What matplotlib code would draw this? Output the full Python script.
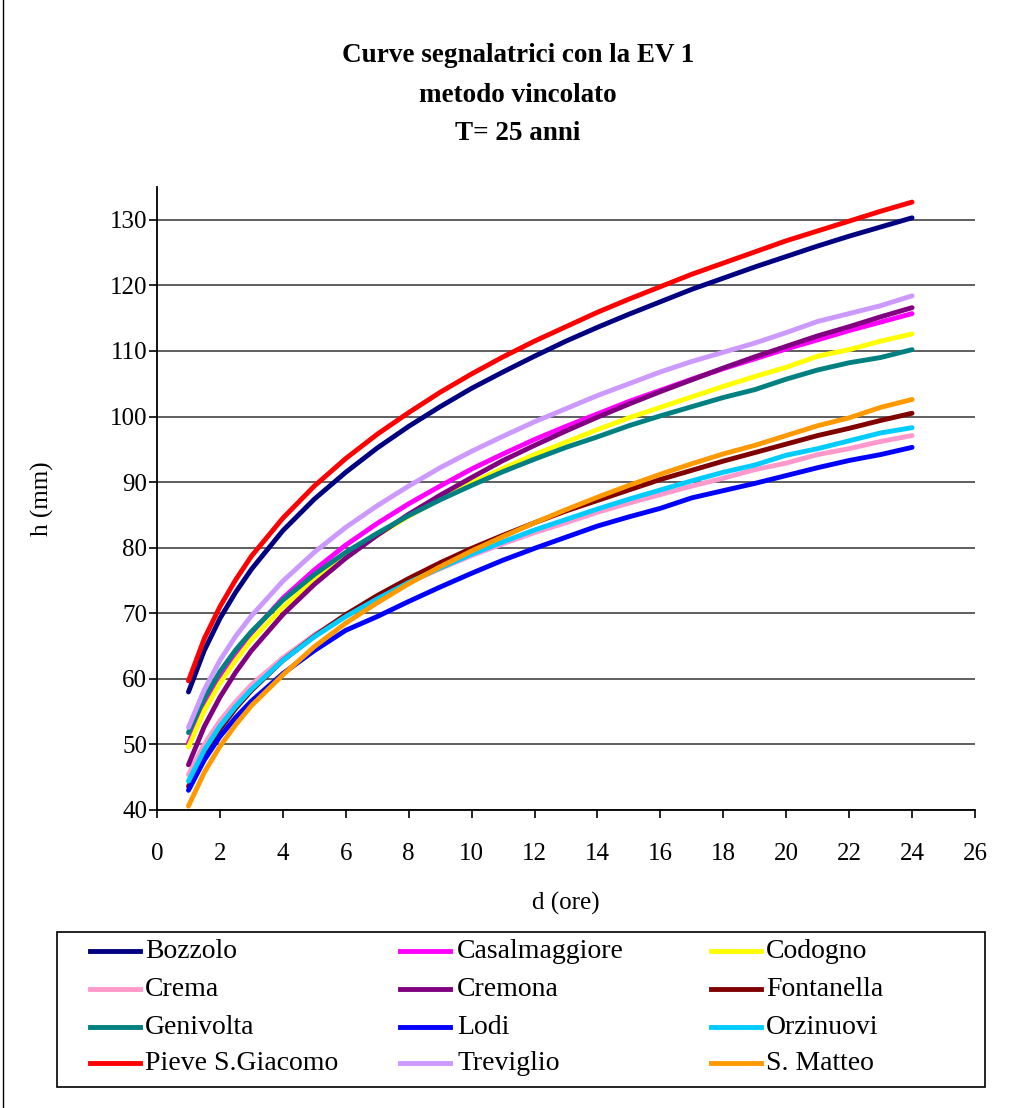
import matplotlib
matplotlib.use('Agg')
import matplotlib.pyplot as plt
from matplotlib.lines import Line2D
from matplotlib.patches import Rectangle

# durata (ore)
durata = [1, 1.5, 2, 2.5, 3, 4, 5, 6, 7, 8, 9, 10, 11, 12,
          13, 14, 15, 16, 17, 18, 19, 20, 21, 22, 23, 24]

bozzolo = [58.0, 64.3, 69.2, 73.2, 76.7, 82.6, 87.4, 91.5, 95.2, 98.5, 101.5, 104.3, 106.8,
           109.2, 111.5, 113.6, 115.6, 117.5, 119.4, 121.1, 122.8, 124.4, 126.0, 127.5, 128.9, 130.3]
casalmaggiore = [50.2, 55.8, 60.2, 63.9, 67.0, 72.3, 76.6, 80.4, 83.7, 86.7, 89.4, 92.0, 94.3,
                 96.5, 98.5, 100.4, 102.3, 104.0, 105.7, 107.3, 108.8, 110.3, 111.7, 113.1, 114.4, 115.7]
codogno = [49.6, 55.1, 59.3, 62.8, 65.9, 70.9, 75.1, 78.8, 81.9, 84.8, 87.4, 89.9, 92.1,
           94.2, 96.1, 98.0, 99.8, 101.4, 103.0, 104.6, 106.1, 107.5, 109.2, 110.2, 111.5, 112.6]
crema = [45.4, 50.0, 53.6, 56.5, 59.1, 63.2, 66.7, 69.7, 72.3, 74.7, 76.8, 78.8, 80.6,
         82.3, 83.8, 85.4, 86.8, 88.1, 89.4, 90.6, 91.9, 92.9, 94.2, 95.1, 96.2, 97.1]
cremona = [46.9, 52.7, 57.2, 61.0, 64.3, 69.8, 74.4, 78.4, 81.9, 85.1, 88.0, 90.7, 93.3,
           95.6, 97.8, 99.9, 101.9, 103.8, 105.6, 107.4, 109.1, 110.7, 112.3, 113.7, 115.2, 116.6]
fontanella = [43.6, 48.5, 52.3, 55.5, 58.2, 62.8, 66.5, 69.8, 72.7, 75.3, 77.7, 79.9, 81.9,
              83.8, 85.6, 87.2, 88.8, 90.4, 91.8, 93.2, 94.5, 95.8, 97.1, 98.2, 99.4, 100.5]
genivolta = [51.8, 57.0, 61.1, 64.4, 67.2, 72.0, 75.9, 79.3, 82.2, 84.9, 87.3, 89.5, 91.6,
             93.5, 95.3, 96.9, 98.6, 100.1, 101.5, 102.9, 104.1, 105.7, 107.1, 108.2, 109.0, 110.2]
lodi = [43.0, 47.6, 51.2, 54.1, 56.6, 60.8, 64.3, 67.4, 69.5, 71.8, 74.0, 76.1, 78.1,
        79.9, 81.6, 83.3, 84.7, 86.0, 87.6, 88.7, 89.8, 91.0, 92.2, 93.3, 94.2, 95.3]
orzinuovi = [44.4, 49.1, 52.8, 55.8, 58.4, 62.8, 66.4, 69.5, 72.2, 74.7, 76.9, 79.0, 80.9,
             82.7, 84.3, 85.9, 87.4, 88.8, 90.2, 91.5, 92.6, 94.1, 95.1, 96.3, 97.5, 98.3]
pieve = [59.7, 66.1, 71.0, 75.1, 78.7, 84.5, 89.4, 93.6, 97.3, 100.6, 103.7, 106.5, 109.1,
         111.5, 113.7, 115.9, 117.9, 119.8, 121.7, 123.4, 125.1, 126.8, 128.3, 129.8, 131.3, 132.7]
treviglio = [52.6, 58.3, 62.8, 66.5, 69.6, 74.9, 79.3, 83.1, 86.4, 89.4, 92.2, 94.7, 97.0,
             99.2, 101.2, 103.2, 105.0, 106.8, 108.4, 109.8, 111.2, 112.8, 114.5, 115.7, 116.9, 118.4]
s_matteo = [40.6, 45.7, 49.7, 53.0, 55.9, 60.6, 64.9, 68.5, 71.6, 74.5, 77.1, 79.5, 81.7,
            83.8, 85.8, 87.7, 89.5, 91.2, 92.8, 94.3, 95.6, 97.1, 98.6, 99.8, 101.4, 102.6]

stazioni = ['Bozzolo', 'Casalmaggiore', 'Codogno', 'Crema', 'Cremona', 'Fontanella',
            'Genivolta', 'Lodi', 'Orzinuovi', 'Pieve S.Giacomo', 'Treviglio', 'S. Matteo']
serie = [bozzolo, casalmaggiore, codogno, crema, cremona, fontanella,
         genivolta, lodi, orzinuovi, pieve, treviglio, s_matteo]
colori = ['#000080', '#FF00FF', '#FFFF00', '#FF99CC', '#800080', '#800000',
          '#008080', '#0000FF', '#00CCFF', '#FF0000', '#CC99FF', '#FF9900']

plt.rcParams['font.family'] = ['Liberation Serif', 'DejaVu Serif']

W, H = 1019, 1108
fig = plt.figure(figsize=(W / 100, H / 100), dpi=100)
ax = fig.add_axes([157 / W, 1 - 810 / H, 818 / W, 623 / H])

for vals, c in zip(serie, colori):
    ax.plot(durata, vals, color=c, lw=3.5, solid_capstyle='round', solid_joinstyle='round')

ax.set_xlim(0, 26)
ax.set_ylim(40, 135)
ax.set_xticks(range(0, 27, 2))
ax.set_yticks(range(40, 131, 10))
ax.grid(axis='y', color='#333333', lw=1.1)
ax.set_axisbelow(True)
for s in ['top', 'right']:
    ax.spines[s].set_visible(False)
for s in ['left', 'bottom']:
    ax.spines[s].set_linewidth(1.3)
ax.tick_params(axis='both', labelsize=18, direction='out', length=6, width=1.2)
ax.tick_params(axis='x', pad=18)
ax.tick_params(axis='y', pad=1)

ax.set_xlabel('d (ore)', fontsize=18)
ax.xaxis.set_label_coords(0.5, -(892 - 810) / 623)
ax.set_ylabel('h (mm)', fontsize=18)
ax.yaxis.set_label_coords((54 - 157) / 818, 0.5)

# titolo
titoli = ['Curve segnalatrici con la EV 1', 'metodo vincolato', 'T= 25 anni']
for t, y in zip(titoli, [55, 95, 134]):
    fig.text(518 / W, 1 - y / H, t, ha='center', va='center', fontsize=19.5, fontweight='bold')

# legenda a 3 colonne
fig.patches.append(Rectangle((57 / W, 1 - 1087 / H), 928 / W, 155 / H, transform=fig.transFigure,
                             fill=False, edgecolor='black', lw=1.2))
col_x = [(90, 145), (400, 457), (711, 766)]
row_y = [951, 989, 1027, 1063]
for i, (nome, c) in enumerate(zip(stazioni, colori)):
    r, k = divmod(i, 3)
    x0, xt = col_x[k]
    y = 1 - row_y[r] / H
    fig.lines.append(Line2D([x0 / W, (x0 + 50) / W], [y, y], transform=fig.transFigure,
                            color=c, lw=3.5))
    fig.text(xt / W, y, nome, ha='left', va='center', fontsize=20)

# bordo sinistro del grafico
fig.lines.append(Line2D([3 / W, 3 / W], [0, 1], transform=fig.transFigure, color='black', lw=1))

plt.savefig('out.png', dpi=100)
plt.close()
